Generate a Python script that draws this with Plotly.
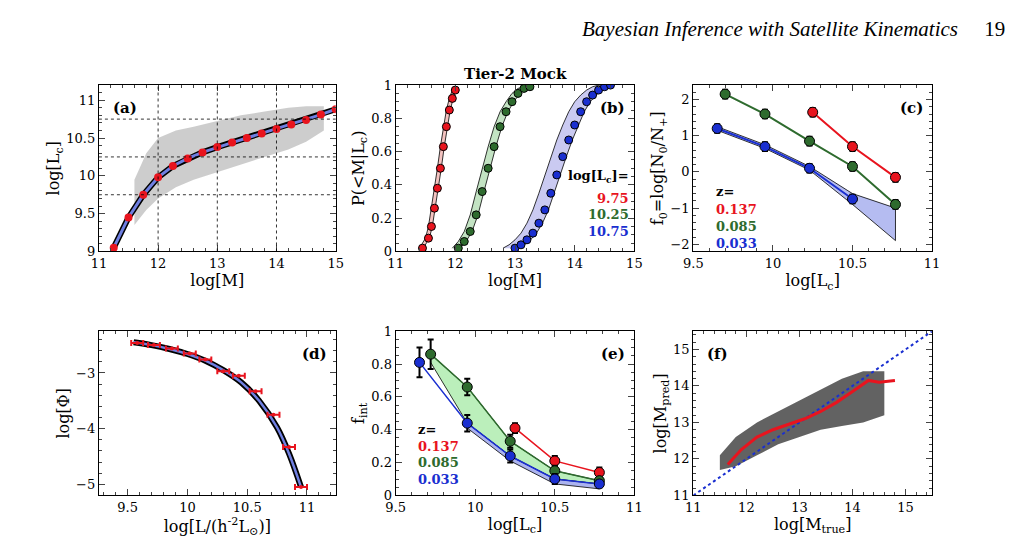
import plotly.graph_objects as go

# ---- panel (a)
a_m = [11.25, 11.5, 11.75, 12.0, 12.25, 12.5, 12.75, 13.0, 13.25, 13.5, 13.75, 14.0, 14.25, 14.5, 14.75, 15.0]
a_l = [9.05, 9.45, 9.75, 9.98, 10.13, 10.23, 10.31, 10.38, 10.44, 10.5, 10.56, 10.62, 10.68, 10.74, 10.81, 10.88]
a_cloud_x = [11.6, 11.8, 12.0, 12.3, 12.6, 13.0, 13.4, 13.8, 14.2, 14.5, 14.8]
a_cloud_hi = [9.95, 10.3, 10.5, 10.6, 10.65, 10.72, 10.8, 10.85, 10.9, 10.92, 10.92]
a_cloud_lo = [9.35, 9.55, 9.7, 9.85, 9.95, 10.05, 10.15, 10.25, 10.35, 10.45, 10.6]

# ---- panel (b)
b_red_x = [11.45, 11.55, 11.6, 11.65, 11.7, 11.75, 11.8, 11.85, 11.9, 11.95, 12.0]
b_red_y = [0.02, 0.08, 0.15, 0.26, 0.38, 0.5, 0.63, 0.75, 0.85, 0.92, 0.97]
b_grn_x = [12.05, 12.15, 12.25, 12.35, 12.45, 12.55, 12.65, 12.75, 12.85, 12.95, 13.05, 13.15, 13.25]
b_grn_y = [0.02, 0.06, 0.12, 0.22, 0.36, 0.5, 0.63, 0.75, 0.84, 0.9, 0.95, 0.98, 0.99]
b_blu_x = [13.0, 13.1, 13.2, 13.3, 13.4, 13.5, 13.6, 13.7, 13.8, 13.9, 14.0, 14.1, 14.2, 14.3, 14.4, 14.5, 14.6]
b_blu_y = [0.02, 0.04, 0.07, 0.11, 0.17, 0.25, 0.35, 0.46, 0.57, 0.67, 0.76, 0.84, 0.9, 0.94, 0.97, 0.99, 1.0]
b_shift = [0.05, 0.1, 0.2]

# ---- panel (c)
c_red_x = [10.25, 10.5, 10.77]
c_red_y = [1.65, 0.7, -0.15]
c_grn_x = [9.7, 9.95, 10.23, 10.5, 10.77]
c_grn_y = [2.15, 1.6, 0.85, 0.15, -0.9]
c_blu_x = [9.65, 9.95, 10.23, 10.5]
c_blu_y = [1.2, 0.7, 0.1, -0.75]
c_blu_bx = [9.65, 9.95, 10.23, 10.5, 10.77]
c_blu_hi = [1.25, 0.75, 0.15, -0.6, -1.0]
c_blu_lo = [1.15, 0.65, 0.05, -0.9, -1.9]

# ---- panel (d)
d_x = [9.58, 9.72, 9.87, 10.02, 10.15, 10.3, 10.43, 10.57, 10.72, 10.85, 10.95]
d_y = [-2.46, -2.5, -2.56, -2.65, -2.76, -2.97, -3.05, -3.33, -3.75, -4.33, -5.05]
d_cx = [9.55, 9.7, 9.85, 10.0, 10.15, 10.3, 10.45, 10.6, 10.75, 10.85, 10.95]
d_cy = [-2.45, -2.5, -2.57, -2.66, -2.78, -2.95, -3.17, -3.5, -3.98, -4.45, -5.05]

# ---- panel (e)
e_red_x = [10.25, 10.5, 10.78]
e_red_y = [0.41, 0.21, 0.14]
e_grn_x = [9.72, 9.95, 10.22, 10.5, 10.78]
e_grn_y = [0.86, 0.66, 0.33, 0.15, 0.09]
e_grn_err = [0.09, 0.05, 0.04, 0.03, 0.02]
e_blu_x = [9.65, 9.95, 10.22, 10.5, 10.78]
e_blu_y = [0.81, 0.44, 0.24, 0.1, 0.07]

# ---- panel (f)
f_cx = [11.5, 11.8, 12.2, 12.6, 13.0, 13.4, 13.8, 14.2, 14.6]
f_hi = [12.1, 12.6, 13.0, 13.3, 13.6, 13.9, 14.2, 14.4, 14.4]
f_lo = [11.7, 11.8, 12.1, 12.4, 12.6, 12.8, 12.9, 13.0, 13.2]
f_rx = [11.65, 11.9, 12.2, 12.5, 12.8, 13.1, 13.4, 13.7, 14.0, 14.3, 14.5, 14.8]
f_ry = [11.85, 12.25, 12.6, 12.8, 12.95, 13.1, 13.3, 13.55, 13.85, 14.15, 14.1, 14.15]

RED, GRN, BLU = "#e8141e", "#2e6b2e", "#1a2fd0"
fig = go.Figure()
dom_x = [(0.081, 0.318), (0.378, 0.617), (0.676, 0.915)]
dom_y = [(0.558, 0.869), (0.102, 0.409)]
ranges = [([11, 15], [9, 11.2]), ([11, 15], [0, 1]), ([9.5, 11], [-2.2, 2.4]),
          ([9.26, 11.24], [-5.2, -2.25]), ([9.5, 11], [0, 1]), ([11, 15.5], [11, 15.5])]
xt = ["log[M]", "log[M]", "log[L<sub>c</sub>]", "log[L/(h<sup>-2</sup>L<sub>⊙</sub>)]", "log[L<sub>c</sub>]", "log[M<sub>true</sub>]"]
yt = ["log[L<sub>c</sub>]", "P(<M|L<sub>c</sub>)", "f<sub>0</sub>=log[N<sub>0</sub>/N<sub>+</sub>]", "log[Φ]", "f<sub>int</sub>", "log[M<sub>pred</sub>]"]
xd = [1, 1, 0.5, 0.5, 0.5, 1]
xm = [0.2, 0.2, 0.1, 0.1, 0.1, 0.2]
yd = [0.5, 0.2, 1, 1, 0.2, 1]
ym = [0.1, 0.05, 0.2, 0.2, 0.05, 0.2]
lay = {}
for i in range(6):
    r, c = divmod(i, 3)
    n = "" if i == 0 else str(i + 1)
    lay["xaxis" + n] = dict(domain=dom_x[c], range=ranges[i][0], anchor="y" + n, mirror="allticks", ticks="inside",
                            showline=True, linecolor="black", linewidth=1.2, showgrid=False, zeroline=False,
                            ticklen=6, title=dict(text=xt[i], standoff=4), dtick=xd[i],
                            minor=dict(ticks="inside", ticklen=3, dtick=xm[i]))
    lay["yaxis" + n] = dict(domain=dom_y[r], range=ranges[i][1], anchor="x" + n, mirror="allticks", ticks="inside",
                            showline=True, linecolor="black", linewidth=1.2, showgrid=False, zeroline=False,
                            ticklen=6, title=dict(text=yt[i], standoff=2), dtick=yd[i],
                            minor=dict(ticks="inside", ticklen=3, dtick=ym[i]))
    left = i in (0, 5)
    fig.add_annotation(xref=f"x{n} domain", yref=f"y{n} domain", x=0.05 if left else 0.97,
                       y=0.93, text="<b>(" + "abcdef"[i] + ")</b>", showarrow=False,
                       xanchor="left" if left else "right", font=dict(size=15))

def band(xs, lo, hi, col, xa, ya, lw=0.8):
    fig.add_trace(go.Scatter(x=xs + xs[::-1], y=hi + lo[::-1], fill="toself", fillcolor=col,
                             line=dict(color="black", width=lw), mode="lines", xaxis=xa, yaxis=ya))

# (a)
band(a_cloud_x, a_cloud_lo, a_cloud_hi, "rgba(200,200,200,0.9)", "x", "y", lw=0)
for v in [9.75, 10.25, 10.75]:
    fig.add_hline(y=v, line=dict(dash="dot", width=0.8, color="black"), xref="x", yref="y")
for v in [12, 13, 14]:
    fig.add_vline(x=v, line=dict(dash="dot", width=0.8, color="black"), xref="x", yref="y")
fig.add_trace(go.Scatter(x=a_m, y=a_l, mode="lines", line=dict(color="black", width=6), xaxis="x", yaxis="y"))
fig.add_trace(go.Scatter(x=a_m, y=a_l, mode="lines+markers", line=dict(color="#6f7fe0", width=3),
                         marker=dict(color=RED, size=8), xaxis="x", yaxis="y"))
# (b)
for xs, ys, col, fc, s in [(b_red_x, b_red_y, RED, "rgba(240,170,165,0.7)", b_shift[0]),
                           (b_grn_x, b_grn_y, GRN, "rgba(170,215,170,0.7)", b_shift[1]),
                           (b_blu_x, b_blu_y, BLU, "rgba(180,180,235,0.7)", b_shift[2])]:
    fig.add_trace(go.Scatter(x=[v - s for v in xs] + [v + s * 0.3 for v in xs[::-1]], y=ys + ys[::-1],
                             fill="toself", fillcolor=fc, mode="lines", line=dict(color="black", width=0.8),
                             xaxis="x2", yaxis="y2"))
    fig.add_trace(go.Scatter(x=xs, y=ys, mode="markers", marker=dict(color=col, size=8, line=dict(color="black", width=1)),
                             xaxis="x2", yaxis="y2"))
fig.add_annotation(xref="x2", yref="y2", x=14.95, y=0.45, text="<b>log[L<sub>c</sub>]=</b>", showarrow=False, xanchor="right")
for k, (t, col) in enumerate([("9.75", RED), ("10.25", GRN), ("10.75", BLU)]):
    fig.add_annotation(xref="x2", yref="y2", x=14.95, y=0.32 - 0.1 * k, text=f"<b>{t}</b>", showarrow=False,
                       xanchor="right", font=dict(color=col))
fig.add_annotation(xref="x2 domain", yref="y2 domain", x=0.5, y=1.0, yanchor="bottom", text="<b>Tier-2 Mock</b>",
                   showarrow=False, font=dict(size=15))
# (c)
band(c_blu_bx, c_blu_lo, c_blu_hi, "rgba(150,160,235,0.7)", "x3", "y3")
for xs, ys, col in [(c_red_x, c_red_y, RED), (c_grn_x, c_grn_y, GRN), (c_blu_x, c_blu_y, BLU)]:
    fig.add_trace(go.Scatter(x=xs, y=ys, mode="lines+markers", line=dict(color=col, width=2),
                             marker=dict(color=col, size=10, line=dict(color="black", width=1)),
                             error_y=dict(type="constant", value=0.12, color="black", width=3), xaxis="x3", yaxis="y3"))
for k, (t, col) in enumerate([("z=", "black"), ("0.137", RED), ("0.085", GRN), ("0.033", BLU)]):
    fig.add_annotation(xref="x3", yref="y3", x=9.63, y=-0.55 - 0.48 * k, text=f"<b>{t}</b>", showarrow=False,
                       xanchor="left", font=dict(color=col))
# (d)
fig.add_trace(go.Scatter(x=d_cx, y=d_cy, mode="lines", line=dict(color="black", width=6), line_shape="spline", xaxis="x4", yaxis="y4"))
fig.add_trace(go.Scatter(x=d_cx, y=d_cy, mode="lines", line=dict(color="#6f7fe0", width=2.5), line_shape="spline", xaxis="x4", yaxis="y4"))
fig.add_trace(go.Scatter(x=d_x, y=d_y, mode="markers", marker=dict(color=RED, size=4),
                         error_x=dict(type="constant", value=0.05, color=RED, thickness=2, width=3), xaxis="x4", yaxis="y4"))
# (e)
band(e_grn_x, e_blu_y, e_grn_y, "rgba(170,235,170,0.8)", "x5", "y5")
band(e_blu_x[1:], [v - 0.03 for v in e_blu_y[1:]], e_blu_y[1:], "rgba(150,160,235,0.8)", "x5", "y5")
for xs, ys, col in [(e_red_x, e_red_y, RED), (e_grn_x, e_grn_y, GRN), (e_blu_x, e_blu_y, BLU)]:
    fig.add_trace(go.Scatter(x=xs, y=ys, mode="lines", line=dict(color=col, width=1.5), xaxis="x5", yaxis="y5"))
for xs, ys, col, err in [(e_red_x, e_red_y, RED, [0.03] * 3), (e_grn_x, e_grn_y, GRN, e_grn_err), (e_blu_x, e_blu_y, BLU, e_grn_err)]:
    fig.add_trace(go.Scatter(x=xs, y=ys, mode="markers", marker=dict(color=col, size=10, line=dict(color="black", width=1)),
                             error_y=dict(type="data", array=err, color="black", width=3), xaxis="x5", yaxis="y5"))
for k, (t, col) in enumerate([("z=", "black"), ("0.137", RED), ("0.085", GRN), ("0.033", BLU)]):
    fig.add_annotation(xref="x5", yref="y5", x=9.63, y=0.4 - 0.1 * k, text=f"<b>{t}</b>", showarrow=False,
                       xanchor="left", font=dict(color=col))
# (f)
band(f_cx, f_lo, f_hi, "rgba(70,70,70,0.85)", "x6", "y6", lw=0)
fig.add_trace(go.Scatter(x=[11, 15.5], y=[11, 15.5], mode="lines", line=dict(color=BLU, dash="dot", width=2), xaxis="x6", yaxis="y6"))
fig.add_trace(go.Scatter(x=f_rx, y=f_ry, mode="lines", line=dict(color=RED, width=3), xaxis="x6", yaxis="y6"))

fig.add_annotation(xref="paper", yref="paper", x=0.99, y=1.0, yanchor="top", xanchor="right", showarrow=False,
                   text="<i>Bayesian Inference with Satellite Kinematics</i>     19",
                   font=dict(size=21, family="Liberation Serif"))
fig.update_layout(**lay, width=1017, height=550, showlegend=False, margin=dict(l=0, r=0, t=0, b=0),
                  plot_bgcolor="white", paper_bgcolor="white",
                  font=dict(family="DejaVu Serif", size=13, color="black"))
fig.write_html("out.html")
